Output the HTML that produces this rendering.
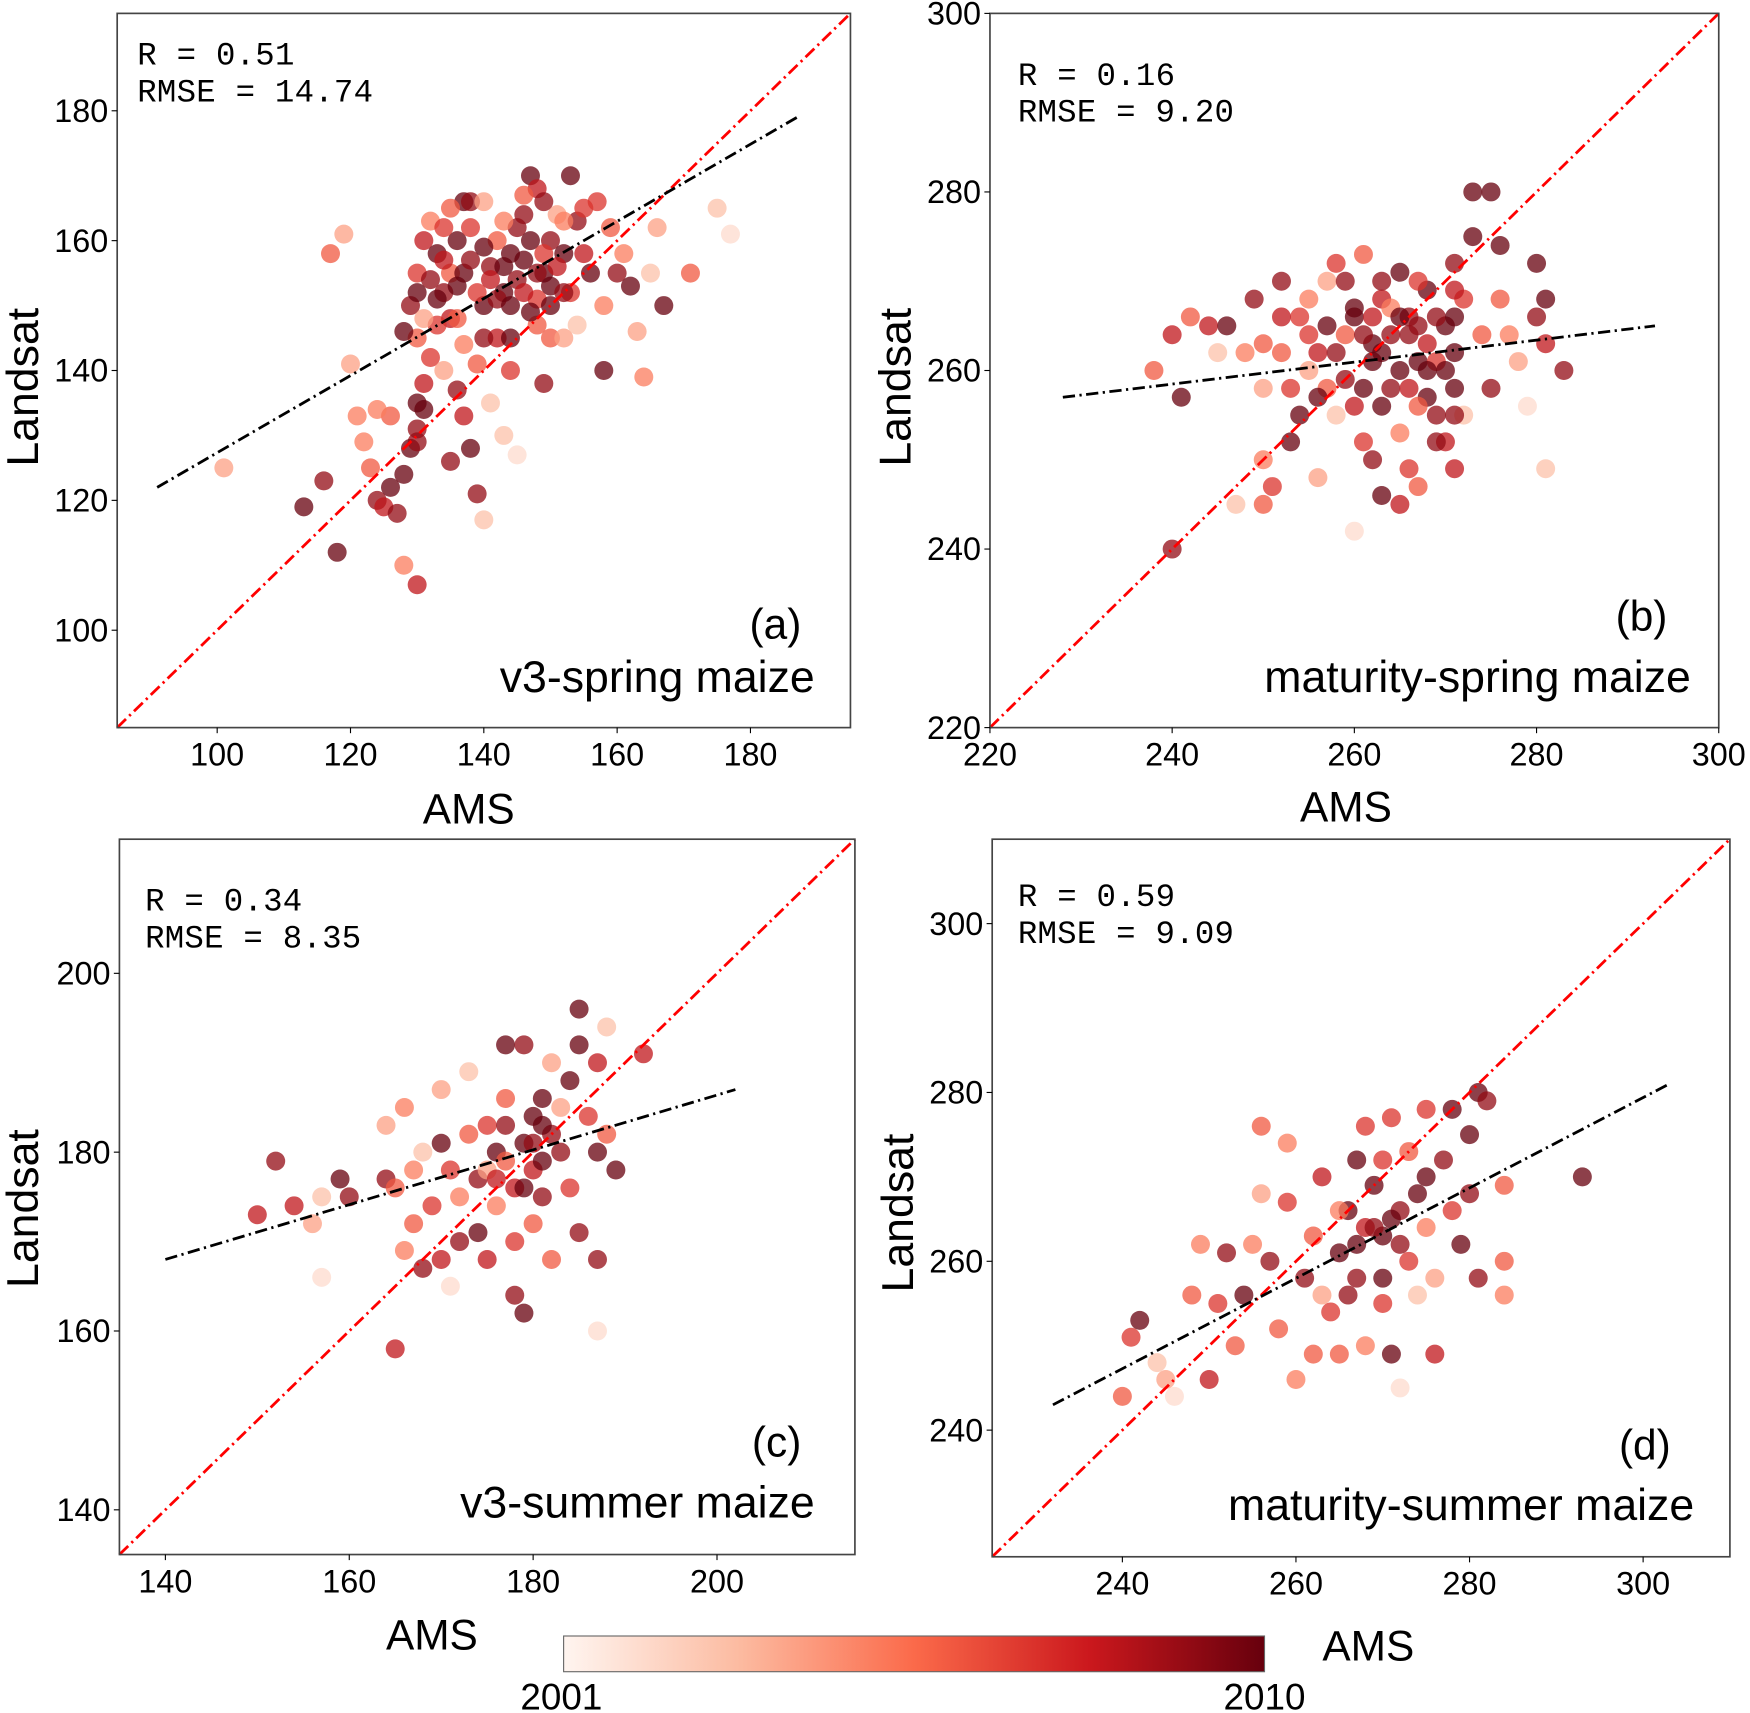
<!DOCTYPE html>
<html><head><meta charset="utf-8"><style>
html,body{margin:0;padding:0;background:#fff}
svg{display:block}
text{font-family:"Liberation Sans",sans-serif;fill:#000}
.mono{font-family:"Liberation Mono",monospace}
</style></head><body>
<svg id="fig" width="1750" height="1713" viewBox="0 0 1568 1535" preserveAspectRatio="none" xmlns="http://www.w3.org/2000/svg">
<defs>
<linearGradient id="reds" x1="0" x2="1" y1="0" y2="0">
<stop offset="0" stop-color="#fff5f0"/><stop offset="0.25" stop-color="#fcbba1"/>
<stop offset="0.5" stop-color="#fb6a4a"/><stop offset="0.75" stop-color="#cb181d"/>
<stop offset="1" stop-color="#67000d"/></linearGradient>
</defs>
</svg>
<script>
const ptsA=[[101,125,3],[113,119,9],[116,123,8],[118,112,9],[117,158,5],[119,161,3],[120,141,3],[121,133,4],[122,129,4],[123,125,5],[124,120,8],[125,119,7],[126,122,9],[127,118,8],[128,124,9],[129,128,9],[130,129,8],[130,107,7],[128,110,4],[131,134,9],[131,138,7],[132,142,6],[130,145,5],[129,150,8],[128,146,9],[130,155,6],[131,160,7],[132,163,4],[133,158,9],[134,152,8],[135,148,7],[135,155,5],[136,160,9],[137,166,9],[138,162,6],[137,144,4],[136,137,8],[138,128,9],[139,121,8],[140,117,2],[140,150,9],[141,156,8],[142,160,5],[142,145,7],[143,152,9],[144,140,6],[145,162,8],[146,157,9],[147,170,9],[148,168,7],[148,151,6],[149,155,9],[150,160,8],[150,145,5],[151,164,3],[152,158,9],[153,170,9],[153,152,6],[154,163,8],[155,158,7],[156,155,9],[157,166,6],[158,140,9],[158,150,4],[159,162,5],[160,155,8],[161,158,4],[162,153,9],[163,146,3],[164,139,4],[165,155,2],[166,162,3],[167,150,9],[171,155,5],[175,165,2],[177,161,1],[141,135,2],[143,130,2],[145,127,1],[138,166,8],[146,164,8],[144,158,9],[149,138,8],[133,147,6],[134,140,3],[126,133,5],[124,134,4],[135,165,5],[140,166,3],[155,165,6],[152,145,3],[148,147,5],[139,141,5],[137,155,9],[143,163,4],[147,160,9],[150,150,9],[154,147,2],[132,154,8],[133,151,9],[134,157,7],[136,153,9],[138,157,8],[139,152,6],[140,159,9],[141,154,7],[142,151,8],[143,156,9],[144,150,9],[145,154,8],[146,152,7],[147,149,9],[148,155,8],[149,158,6],[150,153,9],[151,156,7],[152,152,8],[146,167,5],[144,145,9],[140,145,8],[136,148,5],[134,162,6],[130,152,9],[131,148,3],[152,163,4],[149,166,8],[130,135,9],[130,131,8],[137,133,7],[135,126,8]];
const ptsB=[[240,240,8],[240,264,7],[238,260,5],[241,257,9],[242,266,5],[244,265,7],[246,265,9],[248,262,4],[249,268,8],[250,250,4],[250,245,5],[251,247,6],[252,270,8],[252,262,5],[253,252,9],[254,255,9],[254,266,6],[255,268,4],[256,262,7],[256,248,3],[257,265,9],[258,272,6],[259,259,8],[260,267,9],[260,256,7],[261,273,5],[262,263,9],[262,250,8],[263,268,7],[263,246,9],[264,258,8],[265,271,9],[265,253,4],[266,264,8],[266,249,6],[267,261,9],[267,247,5],[268,269,9],[268,257,9],[269,255,8],[270,265,9],[270,252,7],[271,272,8],[271,262,9],[271,258,9],[271,249,7],[272,268,6],[273,280,9],[273,275,9],[274,264,5],[275,258,8],[275,280,9],[276,274,9],[277,264,4],[278,261,3],[280,272,9],[280,266,8],[281,268,9],[281,263,7],[283,260,8],[281,249,2],[279,256,1],[260,242,1],[247,245,2],[253,258,6],[257,270,3],[259,264,5],[262,261,9],[264,267,4],[266,266,8],[268,263,7],[269,261,6],[258,255,2],[255,260,3],[245,262,2],[250,258,3],[276,268,5],[263,270,8],[267,256,5],[261,252,6],[265,245,7],[272,255,2],[260,266,9],[261,264,8],[262,266,7],[263,262,9],[264,264,8],[265,260,9],[266,258,7],[267,265,8],[268,260,9],[269,266,8],[270,260,9],[271,255,8],[271,266,9],[271,269,7],[261,258,9],[259,270,8],[257,258,5],[255,264,6],[263,256,9],[265,266,9],[267,270,6],[269,252,8],[252,266,7],[250,263,5],[256,257,9],[258,262,8]];
const ptsC=[[150,173,7],[152,179,8],[154,174,7],[156,172,3],[157,166,1],[157,175,2],[159,177,9],[160,175,8],[164,177,8],[164,183,3],[165,158,7],[165,176,5],[166,169,4],[166,185,4],[167,172,5],[168,167,8],[168,180,2],[169,174,6],[170,168,7],[170,187,3],[171,178,6],[172,175,4],[172,170,8],[173,182,5],[173,189,2],[174,177,8],[174,171,9],[175,183,6],[175,168,7],[176,180,9],[176,174,4],[177,192,9],[177,186,5],[178,176,7],[178,164,8],[178,170,6],[179,192,8],[179,181,9],[180,178,7],[180,184,9],[180,172,5],[181,186,9],[181,175,8],[182,168,5],[182,190,3],[183,180,8],[184,176,6],[184,188,9],[185,196,9],[185,192,9],[185,171,8],[186,184,6],[187,190,7],[187,180,9],[187,168,8],[187,160,1],[188,182,5],[189,178,9],[192,191,7],[179,162,9],[188,194,2],[171,165,1],[167,178,4],[175,178,3],[183,185,3],[170,181,9],[177,179,5],[182,182,8],[181,183,9],[180,181,8],[179,176,9],[177,183,8],[176,177,7],[181,179,9]];
const ptsD=[[240,244,5],[241,251,6],[242,253,9],[244,248,2],[246,244,1],[248,256,5],[249,262,4],[250,246,7],[251,255,6],[252,261,8],[253,250,5],[254,256,9],[255,262,4],[256,276,5],[256,268,3],[257,260,8],[258,252,5],[259,267,6],[260,246,4],[261,258,8],[262,263,5],[263,270,7],[264,254,6],[265,261,9],[265,249,5],[266,266,9],[267,272,9],[267,258,8],[268,250,4],[268,264,7],[269,269,9],[270,263,9],[270,255,6],[271,249,9],[271,277,6],[272,266,8],[273,260,6],[273,273,5],[274,268,9],[275,278,6],[275,264,4],[276,249,7],[276,258,3],[277,272,8],[278,278,9],[278,266,6],[279,262,9],[280,275,9],[280,268,8],[281,280,9],[282,279,8],[281,258,8],[284,269,5],[284,260,5],[284,256,4],[293,270,9],[272,245,1],[245,246,3],[263,256,3],[266,256,8],[262,249,5],[270,272,6],[274,256,2],[259,274,4],[268,276,6],[275,270,9],[265,266,4],[271,265,9],[272,262,8],[270,258,9],[269,264,8],[267,262,9]];
const fitA=[[91,122],[187,179]];
const fitB=[[228,257],[293,265]];
const fitC=[[140,168],[202,187]];
const fitD=[[232,243],[303,281]];
const ticksA=[100,120,140,160,180], ticksB=[220,240,260,280,300], ticksC=[140,160,180,200], ticksDx=[240,260,280,300], ticksDy=[240,260,280,300];
const statsA=["R = 0.51","RMSE = 14.74"], statsB=["R = 0.16","RMSE = 9.20"], statsC=["R = 0.34","RMSE = 8.35"], statsD=["R = 0.59","RMSE = 9.09"];
const colorStops=[[255,245,240],[252,187,161],[251,106,74],[203,24,29],[103,0,13]];
const NS="http://www.w3.org/2000/svg";
const svg=document.getElementById('fig');
function el(t,a,p){const e=document.createElementNS(NS,t);for(const k in a)e.setAttribute(k,a[k]);(p||svg).appendChild(e);return e;}
function col(i){const t=i/9*4;const k=Math.min(3,Math.floor(t));const f=t-k;const a=colorStops[k],b=colorStops[k+1];return `rgb(${a.map((v,j)=>Math.round(v+(b[j]-v)*f)).join(',')})`;}
const panels=[
 {id:'a',L:105,R:762,T:12,B:652,min:85,max:195,pts:ptsA,fit:fitA,xt:ticksA,yt:ticksA,st:statsA,sx:123,sy:58,lab:'(a)',name:'v3-spring maize',lx:718,ly:572,nx:730,ny:620,xl:420,xly:738,yl:20,ylx:347},
 {id:'b',L:887,R:1540,T:12,B:652,min:220,max:300,pts:ptsB,fit:fitB,xt:ticksB,yt:ticksB,st:statsB,sx:912,sy:76,lab:'(b)',name:'maturity-spring maize',lx:1494,ly:565,nx:1515,ny:620,xl:1206,xly:736,yl:802,ylx:347},
 {id:'c',L:107,R:766,T:752,B:1393,min:135,max:215,pts:ptsC,fit:fitC,xt:ticksC,yt:ticksC,st:statsC,sx:130,sy:816,lab:'(c)',name:'v3-summer maize',lx:718,ly:1305,nx:730,ny:1360,xl:387,xly:1478,yl:20,ylx:1083},
 {id:'d',L:889,R:1550,T:752,B:1395,min:225,max:310,pts:ptsD,fit:fitD,xt:ticksDx,yt:ticksDy,st:statsD,sx:912,sy:812,lab:'(d)',name:'maturity-summer maize',lx:1497,ly:1308,nx:1518,ny:1362,xl:1226,xly:1488,yl:804,ylx:1087}
];
panels.forEach(p=>{
 const g=el('g',{});
 
 
 const X=v=>p.L+(v-p.min)/(p.max-p.min)*(p.R-p.L);
 const Y=v=>p.B-(v-p.min)/(p.max-p.min)*(p.B-p.T);
 p.pts.forEach(d=>{const c=el('circle',{cx:X(d[0]),cy:Y(d[1]),r:8.5,fill:col(d[2]),'fill-opacity':0.75},g);
  
  });
 const one=el('line',{x1:X(p.min),y1:Y(p.min),x2:X(p.max),y2:Y(p.max),stroke:'#ff0000','stroke-width':2.5,'stroke-dasharray':'11,4,2,4'},g);
 
 
 const fl=el('line',{x1:X(p.fit[0][0]),y1:Y(p.fit[0][1]),x2:X(p.fit[1][0]),y2:Y(p.fit[1][1]),stroke:'#000','stroke-width':2.5,'stroke-dasharray':'11,4,2,4'},g);
 
 
 const fr=el('rect',{x:p.L,y:p.T,width:p.R-p.L,height:p.B-p.T,fill:'none',stroke:'#444','stroke-width':1.5},g);
 
 
 p.xt.forEach(v=>{el('line',{x1:X(v),x2:X(v),y1:p.B,y2:p.B+5,stroke:'#000'},g);
  const t=el('text',{x:X(v),y:p.B+34,'font-size':29,'text-anchor':'middle'},g);t.textContent=v;
  
  });
 p.yt.forEach(v=>{el('line',{x1:p.L-5,x2:p.L,y1:Y(v),y2:Y(v),stroke:'#000'},g);
  const t=el('text',{x:p.L-8,y:Y(v)+10,'font-size':29,'text-anchor':'end'},g);t.textContent=v;
  
  });
 p.st.forEach((s,i)=>{const t=el('text',{x:p.sx,y:p.sy+i*33,'font-size':29,'class':'mono','textLength':s.length*17.6},g);t.textContent=s;
  
  });
 const lb=el('text',{x:p.lx,y:p.ly,'font-size':38,'text-anchor':'end'},g);lb.textContent=p.lab;
 
 
 const nm=el('text',{x:p.nx,y:p.ny,'font-size':40,'text-anchor':'end'},g);nm.textContent=p.name;
 
 
 const xl=el('text',{x:p.xl,y:p.xly,'font-size':38,'text-anchor':'middle'},g);xl.textContent='AMS';
 
 
 const yl=el('text',{x:0,y:0,'font-size':40,'text-anchor':'middle',transform:`translate(${p.yl+14},${p.ylx}) rotate(-90)`},g);yl.textContent='Landsat';
 
 
});
const cb=el('rect',{x:505,y:1466,width:628,height:32,fill:'url(#reds)',stroke:'#666','stroke-width':1});


const cbl=[['2001',503,1532],['2010',1133,1532]];
cbl.forEach(c=>{const t=el('text',{x:c[1],y:c[2],'font-size':33,'text-anchor':'middle'});t.textContent=c[0];
 
 });
</script>
</body></html>
